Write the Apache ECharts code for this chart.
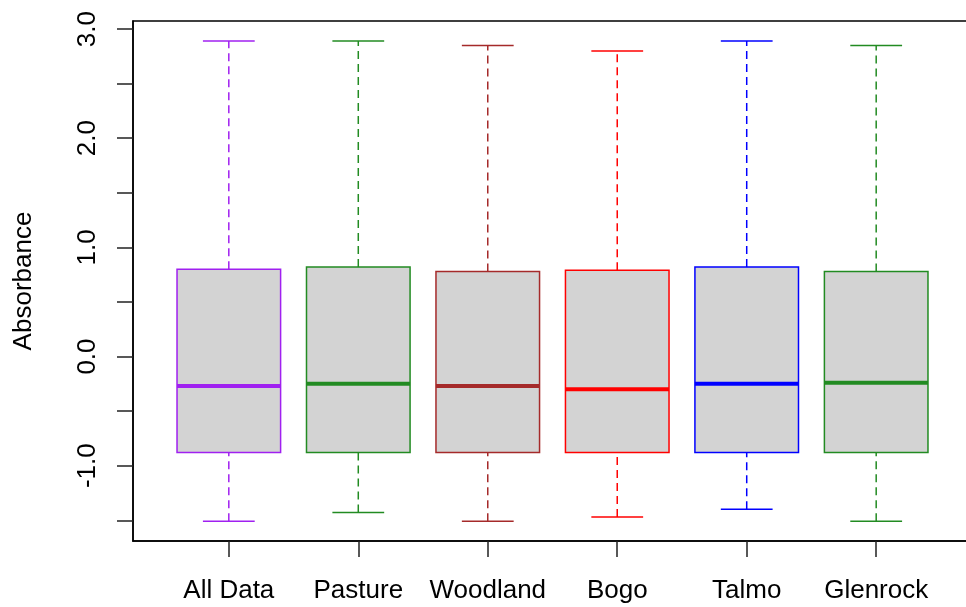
<!DOCTYPE html>
<html>
<head>
<meta charset="utf-8">
<script src="https://cdn.jsdelivr.net/npm/echarts@6/dist/echarts.min.js"></script>
<style>
  html, body { margin: 0; padding: 0; background: #fff; overflow: hidden; }
  #chart { width: 972px; height: 607px; }
</style>
</head>
<body>
<div id="chart"></div>
<script>
// values
const categories = ['All Data', 'Pasture', 'Woodland', 'Bogo', 'Talmo', 'Glenrock']
const whiskerLow = [-1.51, -1.43, -1.51, -1.47, -1.40, -1.51]
const q1 = [-0.88, -0.88, -0.88, -0.88, -0.88, -0.88]
const median = [-0.27, -0.25, -0.27, -0.30, -0.25, -0.24]
const q3 = [0.80, 0.82, 0.78, 0.79, 0.82, 0.78]
const whiskerHigh = [2.89, 2.89, 2.85, 2.80, 2.89, 2.85]
const colors = ['#A020F0', '#228B22', '#A52A2A', '#FF0000', '#0000FF', '#228B22']
const xTicks = [1, 2, 3, 4, 5, 6]
const yTicks = [-1.5, -1, -0.5, 0, 0.5, 1, 1.5, 2, 2.5, 3]
const yLabels = [-1, 0, 1, 2, 3]

const boxData = categories.map((c, i) => [i + 1, whiskerLow[i], q1[i], median[i], q3[i], whiskerHigh[i]])
const font = "'Liberation Sans', Arial, sans-serif"

const chart = echarts.init(document.getElementById('chart'), null, { renderer: 'canvas' })

function renderBox(params, api) {
  const i = params.dataIndex
  const x = api.value(0)
  const pLow = api.coord([x, api.value(1)])
  const pQ1 = api.coord([x, api.value(2)])
  const pMed = api.coord([x, api.value(3)])
  const pQ3 = api.coord([x, api.value(4)])
  const pHigh = api.coord([x, api.value(5)])
  const boxW = api.size([0.8, 0])[0]
  const capW = api.size([0.4, 0])[0]
  const cx = pMed[0]
  const col = colors[i]
  const dash = { stroke: col, lineWidth: 1.5, lineDash: [8, 5] }
  const solid = { stroke: col, lineWidth: 1.5 }
  return {
    type: 'group',
    children: [
      { type: 'line', shape: { x1: cx, y1: pQ3[1], x2: cx, y2: pHigh[1] }, style: dash },
      { type: 'line', shape: { x1: cx, y1: pLow[1], x2: cx, y2: pQ1[1] }, style: dash },
      { type: 'line', shape: { x1: cx - capW / 2, y1: pHigh[1], x2: cx + capW / 2, y2: pHigh[1] }, style: solid },
      { type: 'line', shape: { x1: cx - capW / 2, y1: pLow[1], x2: cx + capW / 2, y2: pLow[1] }, style: solid },
      {
        type: 'rect',
        shape: { x: cx - boxW / 2, y: pQ3[1], width: boxW, height: pQ1[1] - pQ3[1] },
        style: { fill: '#D3D3D3', stroke: col, lineWidth: 1.5 }
      },
      { type: 'line', shape: { x1: cx - boxW / 2, y1: pMed[1], x2: cx + boxW / 2, y2: pMed[1] }, style: { stroke: col, lineWidth: 4 } }
    ]
  }
}

chart.setOption({
  animation: false,
  backgroundColor: '#fff',
  grid: {
    left: 133,
    right: 0,
    top: 21,
    bottom: 66,
    show: true,
    borderColor: '#000',
    borderWidth: 1.5,
    containLabel: false,
    outerBoundsMode: 'none'
  },
  xAxis: {
    type: 'value',
    min: 0.26,
    max: 6.74,
    splitLine: { show: false },
    axisLine: { show: true, onZero: false, lineStyle: { color: '#000', width: 1.5 } },
    axisTick: {
      show: true,
      length: 16,
      customValues: xTicks,
      lineStyle: { color: '#222', width: 1.5 }
    },
    axisLabel: {
      customValues: xTicks,
      formatter: v => categories[Math.round(v) - 1],
      margin: 37,
      fontSize: 26,
      fontFamily: font,
      color: '#000'
    }
  },
  yAxis: {
    type: 'value',
    min: -1.69,
    max: 3.074,
    name: 'Absorbance',
    nameLocation: 'middle',
    nameRotate: 90,
    nameGap: 96,
    nameTextStyle: { fontSize: 26, fontFamily: font, color: '#000' },
    splitLine: { show: false },
    axisLine: { show: true, onZero: false, lineStyle: { color: '#000', width: 1.5 } },
    axisTick: {
      show: true,
      length: 16,
      customValues: yTicks,
      lineStyle: { color: '#222', width: 1.5 }
    },
    axisLabel: {
      customValues: yLabels,
      formatter: v => v.toFixed(1),
      rotate: 90,
      margin: 32,
      fontSize: 26,
      fontFamily: font,
      color: '#000'
    }
  },
  series: [
    {
      type: 'custom',
      renderItem: renderBox,
      data: boxData,
      encode: { x: 0, y: [1, 2, 3, 4, 5] },
      silent: true
    }
  ]
})
</script>
</body>
</html>
